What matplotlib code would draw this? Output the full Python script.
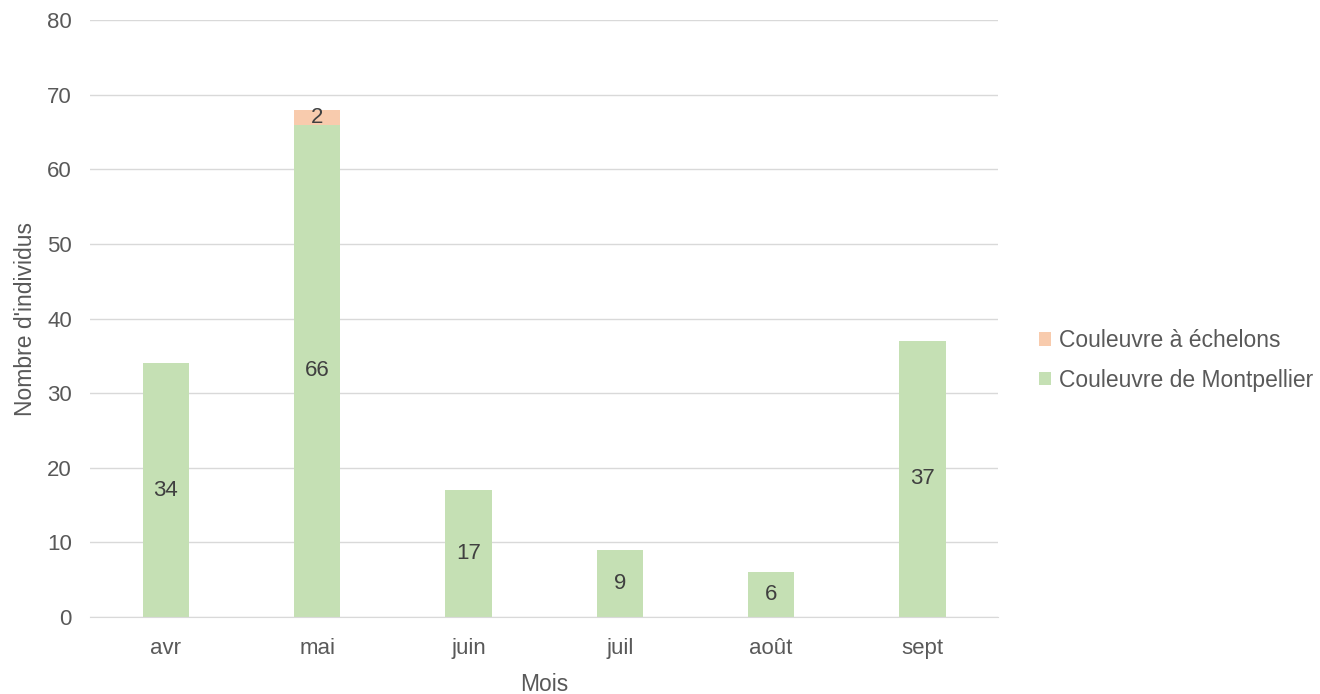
import matplotlib.pyplot as plt
import numpy as np

mois = ['avr', 'mai', 'juin', 'juil', 'août', 'sept']
montpellier = [34, 66, 17, 9, 6, 37]
echelons = [0, 2, 0, 0, 0, 0]

green = '#C5E0B4'
orange = '#F8CBAD'
txt = '#595959'

plt.rcParams['font.family'] = ['Liberation Sans', 'DejaVu Sans']

fig = plt.figure(figsize=(13.2, 6.94), dpi=100)
ax = fig.add_axes([0.0682, 0.111, 0.688, 0.86])

x = np.arange(len(mois)) + 0.5
w = 0.305
b1 = ax.bar(x, montpellier, w, color=green, label='Couleuvre de Montpellier', zorder=2)
b2 = ax.bar(x, echelons, w, bottom=montpellier, color=orange, label='Couleuvre à échelons', zorder=2)

for xi, v in zip(x, montpellier):
    if v:
        ax.text(xi, v / 2, str(v), ha='center', va='center', fontsize=16, color='#404040', zorder=3)
for xi, base, v in zip(x, montpellier, echelons):
    if v:
        ax.text(xi, base + v / 2, str(v), ha='center', va='center', fontsize=16, color='#404040', zorder=3)

ax.set_xlim(0, len(mois))
ax.set_ylim(0, 80)
ax.set_yticks(range(0, 81, 10))
ax.set_xticks(x)
ax.set_xticklabels(mois)
ax.grid(axis='y', color='#D9D9D9', linewidth=1, zorder=0)
for s in ['top', 'right', 'left']:
    ax.spines[s].set_visible(False)
ax.spines['bottom'].set_color('#D9D9D9')
ax.tick_params(length=0, colors=txt, labelsize=16)
ax.tick_params(axis='x', pad=15)
ax.tick_params(axis='y', pad=13)
ax.set_xlabel('Mois', fontsize=16.5, color=txt, labelpad=10)
ax.set_ylabel("Nombre d'individus", fontsize=16.5, color=txt, labelpad=7)

handles = [b2, b1]
ax.legend(handles, [h.get_label() for h in handles], loc='center left',
          bbox_to_anchor=(1.022, 0.43), frameon=False, fontsize=16.5,
          labelcolor=txt, handlelength=0.55, handleheight=0.55,
          handletextpad=0.35, labelspacing=0.72)

fig.savefig('out.png', dpi=100)
